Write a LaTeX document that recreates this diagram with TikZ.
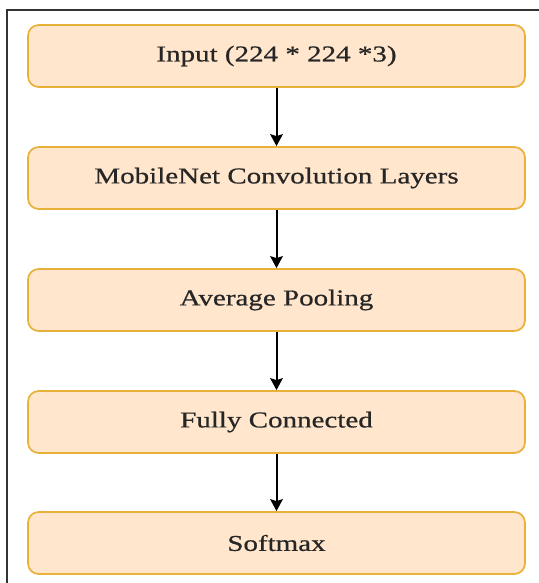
\documentclass[tikz,border=0pt]{standalone}
\usepackage{fontspec}
\setmainfont{Liberation Serif}
\newfontfamily\boxfont[FakeStretch=1.28,FakeBold=0.6]{Liberation Serif}
\usetikzlibrary{arrows.meta}
\definecolor{boxfill}{HTML}{FFE6CC}
\definecolor{boxline}{HTML}{E8B23A}
\definecolor{framecol}{HTML}{333333}
\tikzset{
  layerbox/.style={draw=boxline, fill=boxfill, line width=1.3pt, rounded corners=8pt,
    minimum width=372.75pt, minimum height=46.5pt, inner sep=0pt,
    font=\boxfont\fontsize{17pt}{20pt}\selectfont, text=black!85},
  flow/.style={line width=1.5pt, -{Stealth[length=9pt,width=9.5pt,inset=1.5pt]}}
}
\begin{document}
\begin{tikzpicture}[x=0.75pt, y=-0.75pt]
  \useasboundingbox (0,0) rectangle (539,583);
  % outer frame (left and top edges)
  \draw[framecol, line width=1.1pt] (7,583) -- (7,10) -- (539,10);
  % layers
  \node[layerbox] (in)   at (276.5,56)  {Input (224 * 224 *3)};
  \node[layerbox] (conv) at (276.5,178) {MobileNet Convolution Layers};
  \node[layerbox] (pool) at (276.5,300) {Average Pooling};
  \node[layerbox] (fc)   at (276.5,422) {Fully Connected};
  \node[layerbox] (soft) at (276.5,543) {Softmax};
  % connectors
  \draw[flow] (in) -- (conv);
  \draw[flow] (conv) -- (pool);
  \draw[flow] (pool) -- (fc);
  \draw[flow] (fc) -- (soft);
\end{tikzpicture}
\end{document}
